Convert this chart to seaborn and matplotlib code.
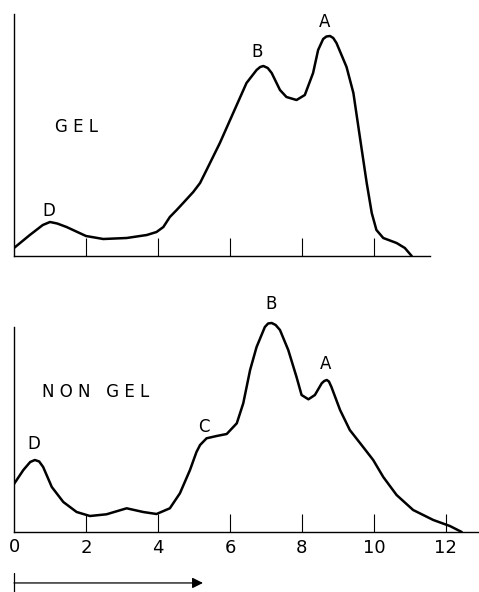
import numpy as np
import matplotlib.pyplot as plt
import matplotlib.transforms as mtransforms
import seaborn as sns

# GEL trace (distance, absorbance in arbitrary units)
gel_x = [0.0, 0.44, 0.8, 1.0, 1.2, 1.46, 2.0, 2.48, 3.13, 3.69, 3.96, 4.15, 4.33,
         4.52, 4.7, 4.98, 5.17, 5.35, 5.72, 6.09, 6.46, 6.74, 6.84, 6.93, 7.05,
         7.16, 7.39, 7.57, 7.85, 8.08, 8.31, 8.45, 8.59, 8.68, 8.78, 8.87, 8.96,
         9.24, 9.43, 9.61, 9.8, 9.94, 10.07, 10.26, 10.63, 10.86, 11.05]
gel_y = [8, 21, 31, 34, 32.5, 29, 20, 17, 18, 21, 24, 29, 39,
         46, 53, 64, 73, 86, 113, 143, 173, 186, 189, 190, 188,
         183, 166, 159, 156, 161, 183, 206, 217, 219.5, 220, 218, 213,
         189, 163, 119, 73, 43, 26, 18, 13, 8, 0]

# NON GEL trace
ngel_x = [0.0, 0.26, 0.45, 0.58, 0.7, 0.81, 1.05, 1.37, 1.74, 2.11, 2.57, 3.13,
          3.59, 3.96, 4.33, 4.61, 4.89, 5.07, 5.17, 5.35, 5.63, 5.91, 6.19, 6.37,
          6.56, 6.74, 6.97, 7.06, 7.16, 7.27, 7.39, 7.62, 7.85, 7.99, 8.18, 8.36,
          8.55, 8.62, 8.69, 8.75, 8.82, 9.06, 9.33, 9.7, 9.98, 10.26, 10.63, 11.09,
          11.65, 12.11, 12.44]
ngel_y = [48, 62, 70, 72, 70.5, 65, 45, 30, 20, 16, 17.7, 23.7,
          20, 18, 23.7, 38.7, 62, 80, 87, 93.7, 96, 98, 108.7, 128.7,
          162, 185, 205, 208.5, 209, 207, 202, 182, 155, 137, 132.7, 137,
          148.7, 151, 152, 150.5, 145, 122, 102, 85, 72, 55, 37, 22,
          12, 6, 0]

tick_pos = [0, 2, 4, 6, 8, 10, 12]
tick_lbl = ['0', '2', '4', '6', '8', '10', '12']

gel_peaks = {'D': (0.96, 45), 'B': (6.74, 204), 'A': (8.64, 234)}
ngel_peaks = {'D': (0.54, 88), 'C': (5.28, 105), 'B': (7.13, 228), 'A': (8.67, 168)}

sns.set_style('white')
plt.rcParams['font.family'] = ['DejaVu Sans']
plt.rcParams['text.color'] = 'black'
plt.rcParams['xtick.color'] = 'black'
plt.rcParams['xtick.labelcolor'] = 'black'

fig = plt.figure(figsize=(4.79, 5.92), dpi=100)
W, H = 479, 592
ax1 = fig.add_axes([14 / W, 336 / H, 465 / W, 242 / H])
ax2 = fig.add_axes([14 / W, 60 / H, 465 / W, 215 / H])

sns.lineplot(x=gel_x, y=gel_y, ax=ax1, color='black', lw=1.8, sort=False)
sns.lineplot(x=ngel_x, y=ngel_y, ax=ax2, color='black', lw=1.8, sort=False)

for ax, top in [(ax1, 242), (ax2, 215)]:
    ax.set_xlim(0, 12.92)
    ax.set_ylim(0, top)
    ax.spines['top'].set_visible(False)
    ax.spines['right'].set_visible(False)
    for s in ['left', 'bottom']:
        ax.spines[s].set_linewidth(1.0)
        ax.spines[s].set_color('black')
    ax.set_yticks([])
    ax.tick_params(axis='x', bottom=True, direction='in', length=13, width=0.8,
                   color='black', pad=5, labelsize=13)

ax1.spines['bottom'].set_bounds(0, 11.55)
ax2.spines['left'].set_bounds(0, 205)
ax1.set_xticks(tick_pos[1:6])
ax1.set_xticklabels([])

ax2.set_xticks(tick_pos[1:])
ax2.set_xticklabels(tick_lbl[1:])
ax2.text(0, -0.026, tick_lbl[0], transform=mtransforms.blended_transform_factory(
    ax2.transData, ax2.transAxes), ha='center', va='top', fontsize=13)

for k, (x, y) in gel_peaks.items():
    ax1.text(x, y, k, ha='center', va='center', fontsize=12)
for k, (x, y) in ngel_peaks.items():
    ax2.text(x, y, k, ha='center', va='center', fontsize=12, clip_on=False)

ax1.text(1.14, 129, 'G E L', ha='left', va='center', fontsize=12)
ax2.text(0.78, 140, 'N O N   G E L', ha='left', va='center', fontsize=12)

# direction arrow under the axis
tr = mtransforms.blended_transform_factory(ax2.transData, ax2.transAxes)
ax2.annotate('', xy=(5.25, -0.237), xytext=(0, -0.237), xycoords=tr, textcoords=tr,
             arrowprops=dict(arrowstyle='-|>', mutation_scale=16, lw=0.9,
                             color='black', shrinkA=0, shrinkB=0))
ax2.plot([0, 0], [-0.19, -0.285], transform=tr, color='black', lw=0.9, clip_on=False)

fig.savefig('out.png', dpi=100)
